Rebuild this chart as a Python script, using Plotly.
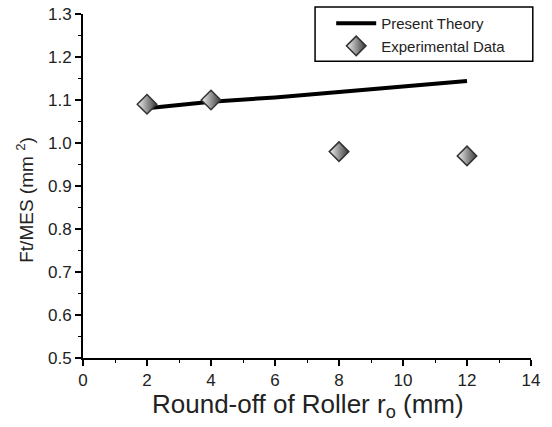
import plotly.graph_objects as go

theory_x = [2, 4, 6, 8, 10, 12]
theory_y = [1.081, 1.096, 1.106, 1.119, 1.131, 1.144]
exp_x = [2, 4, 8, 12]
exp_y = [1.09, 1.10, 0.98, 0.97]

x_title = "Round-off of Roller r<sub>o</sub> (mm)"
y_title = "Ft/MES (mm <sup>2</sup>)"

fig = go.Figure()
fig.add_trace(go.Scatter(x=theory_x, y=theory_y, mode="lines", name="Present Theory",
                         line=dict(color="black", width=4)))
fig.add_trace(go.Scatter(x=exp_x, y=exp_y, mode="markers", name="Experimental Data",
                         marker=dict(symbol="diamond", size=15, color="#f2f2f2",
                                     gradient=dict(type="horizontal", color="#3a3a3a"),
                                     line=dict(color="#333333", width=1.5))))

font = "Liberation Sans, Arial, sans-serif"
fig.update_layout(
    width=552, height=427,
    margin=dict(l=83, r=21, t=14, b=69, autoexpand=False),
    paper_bgcolor="white", plot_bgcolor="white",
    font=dict(family=font, color="#222222"),
    showlegend=True,
    legend=dict(x=0.554, y=1.02, xanchor="left", yanchor="top",
                borderwidth=0, bgcolor="rgba(0,0,0,0)",
                font=dict(size=15, family=font), tracegroupgap=0,
                itemwidth=40),
)
# legend frame
fig.add_shape(type="rect", xref="paper", yref="paper", x0=0.518, x1=1.004, y0=0.863, y1=1.020,
              line=dict(color="black", width=1.5), fillcolor="white", layer="below")
fig.update_xaxes(range=[0, 14], tickvals=[0, 2, 4, 6, 8, 10, 12, 14],
                 automargin=False,
                 ticks="outside", ticklen=6, tickwidth=1.5, tickcolor="black",
                 minor=dict(ticks="outside", dtick=1, ticklen=3, tickcolor="black", tickwidth=1),
                 showline=True, linecolor="black", linewidth=2, showgrid=False, zeroline=False,
                 tickfont=dict(size=17, family=font))
fig.update_yaxes(range=[0.5, 1.3], tickvals=[0.5, 0.6, 0.7, 0.8, 0.9, 1.0, 1.1, 1.2, 1.3],
                 tickformat=".1f", automargin=False,
                 ticks="outside", ticklen=6, tickwidth=1.5, tickcolor="black",
                 minor=dict(ticks="outside", dtick=0.05, ticklen=3, tickcolor="black", tickwidth=1),
                 showline=True, linecolor="black", linewidth=2, showgrid=False, zeroline=False,
                 tickfont=dict(size=17, family=font))
fig.add_annotation(text=x_title, xref="paper", yref="paper", x=0.502, y=0,
                   yshift=-47, xanchor="center", yanchor="middle", showarrow=False,
                   font=dict(size=26, family=font, color="#222222"))
fig.add_annotation(text=y_title, xref="paper", yref="paper", x=0, y=0.46,
                   xshift=-58, xanchor="center", yanchor="middle", textangle=-90,
                   showarrow=False, font=dict(size=19, family=font, color="#222222"))

# remove the default 8px page margin so the figure fills the window exactly
fig.write_html("out.html", config={"displayModeBar": False},
               post_script="document.body.style.margin='0';document.body.style.overflow='hidden';")
